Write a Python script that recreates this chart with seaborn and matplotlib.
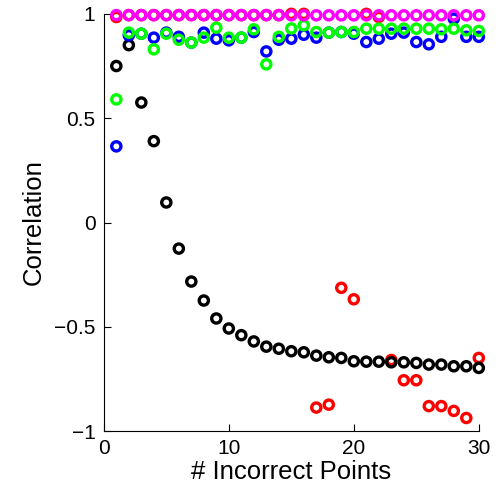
import numpy as np
import matplotlib
matplotlib.use("Agg")
import matplotlib.pyplot as plt
import seaborn as sns

# number of incorrect points
n_incorrect = list(range(1, 31))

# correlation per method
corr_black = [0.75, 0.85, 0.575, 0.39, 0.096, -0.125, -0.283, -0.374, -0.46, -0.508,
              -0.54, -0.57, -0.595, -0.605, -0.617, -0.622, -0.638, -0.646, -0.649, -0.665,
              -0.667, -0.667, -0.67, -0.67, -0.673, -0.681, -0.681, -0.689, -0.689, -0.697]
corr_red = [0.985, 0.994, 0.994, 0.994, 0.994, 0.994, 0.994, 0.994, 0.994, 0.994,
            0.994, 0.994, 0.994, 0.994, 1.0, 1.0, -0.887, -0.873, -0.313, -0.368,
            1.0, 0.985, -0.659, -0.756, -0.756, -0.88, -0.88, -0.903, -0.937, -0.649]
corr_blue = [0.365, 0.897, 0.905, 0.886, 0.91, 0.89, 0.862, 0.91, 0.881, 0.873,
             0.886, 0.913, 0.82, 0.876, 0.881, 0.90, 0.886, 0.91, 0.913, 0.905,
             0.865, 0.881, 0.905, 0.91, 0.865, 0.854, 0.89, 0.977, 0.89, 0.89]
corr_green = [0.59, 0.91, 0.905, 0.83, 0.905, 0.876, 0.862, 0.886, 0.934, 0.886,
              0.886, 0.926, 0.758, 0.89, 0.93, 0.945, 0.913, 0.91, 0.913, 0.913,
              0.929, 0.929, 0.929, 0.929, 0.929, 0.929, 0.926, 0.929, 0.921, 0.918]
corr_magenta = [0.994, 0.994, 0.994, 0.994, 0.994, 0.994, 0.994, 0.994, 0.994, 0.994,
                0.994, 0.994, 0.994, 0.994, 0.993, 0.993, 0.993, 0.993, 0.993, 0.993,
                0.993, 0.993, 0.993, 0.993, 0.993, 0.993, 0.993, 0.993, 0.993, 0.993]

x_ticks = [0, 10, 20, 30]
y_ticks = [-1, -0.5, 0, 0.5, 1]
y_tick_labels = ["\u22121", "\u22120.5", "0", "0.5", "1"]

sns.set_style("ticks")
plt.rcParams["font.family"] = ["Liberation Sans", "DejaVu Sans"]

fig = plt.figure(figsize=(5.04, 4.95), dpi=100)
ax = fig.add_axes([0.206, 0.129, 0.744, 0.843])

# draw order: red under black, green over blue, magenta on top
series = [(corr_red, "#ff0000"), (corr_black, "#000000"), (corr_blue, "#0000ff"),
          (corr_green, "#00ff00"), (corr_magenta, "#ff00ff")]
for vals, col in series:
    sns.scatterplot(x=n_incorrect, y=vals, ax=ax, marker="o", s=44,
                    facecolor="none", edgecolor=col, linewidth=2.4, clip_on=False)

ax.set_xlim(0, 30)
ax.set_ylim(-1, 1)
ax.set_xticks(x_ticks)
ax.set_yticks(y_ticks)
ax.set_yticklabels(y_tick_labels)
ax.tick_params(direction="in", length=5, width=0.8, labelsize=15, pad=6, colors="black")
ax.set_xlabel("# Incorrect Points", fontsize=18.5, labelpad=1, color="black")
ax.set_ylabel("Correlation", fontsize=18.5, labelpad=6, color="black")
sns.despine(ax=ax)
for sp in ax.spines.values():
    sp.set_color("black")
    sp.set_linewidth(0.8)

fig.savefig("out.png", dpi=100)
